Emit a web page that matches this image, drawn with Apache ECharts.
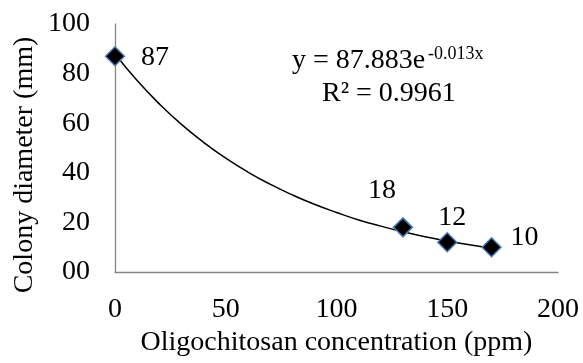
<!DOCTYPE html>
<html><head><meta charset="utf-8">
<script src="https://cdn.jsdelivr.net/npm/echarts@6/dist/echarts.min.js"></script>
<style>html,body{margin:0;padding:0;background:#fff}#c{width:583px;height:363px}</style>
</head><body><div id="c"></div>
<script>
// Observed data points
var concentrations = [0, 130, 150, 170];
var diameters = [87, 18, 12, 10];
// Exponential trendline
var trendX = [0, 10, 20, 30, 40, 50, 60, 70, 80, 90, 100, 110, 120, 130, 140, 150, 160, 170];
var trendY = [87.9, 77.2, 67.8, 59.5, 52.3, 45.9, 40.3, 35.4, 31.1, 27.3, 24.0, 21.0, 18.5, 16.2, 14.2, 12.5, 11.0, 9.6];
var labelOffsets = [[40, 1], [-21, -37], [5, -25], [33, -10]];
var xTicks = [0, 50, 100, 150, 200];
var yTicks = ['00', '20', '40', '60', '80', '100'];
var equationText = 'y = 87.883e';
var equationSup = '-0.013x';
var r2Text = 'R² = 0.9961';

var FONT = '"Liberation Serif", "Times New Roman", serif';
var FS = 28;
var chart = echarts.init(document.getElementById('c'));

var pts = concentrations.map(function (x, i) {
  return {
    value: [x, diameters[i]],
    label: { offset: labelOffsets[i] }
  };
});
var trend = trendX.map(function (x, i) { return [x, trendY[i]]; });

chart.setOption({
  animation: false,
  grid: { left: 115, right: 25, top: 24, bottom: 91 },
  xAxis: {
    type: 'value', min: 0, max: 200, interval: 50,
    name: 'Oligochitosan concentration (ppm)',
    nameLocation: 'middle', nameGap: 55,
    nameTextStyle: { fontFamily: FONT, fontSize: FS, color: '#000' },
    axisLine: { show: true, lineStyle: { color: '#868686', width: 1.3 } },
    axisTick: { show: false },
    splitLine: { show: false },
    axisLabel: { fontFamily: FONT, fontSize: FS, color: '#000', margin: 24 }
  },
  yAxis: {
    type: 'value', min: 0, max: 100, interval: 20,
    axisLine: { show: true, lineStyle: { color: '#868686', width: 1.3 } },
    axisTick: { show: false },
    splitLine: { show: false },
    axisLabel: {
      fontFamily: FONT, fontSize: FS, color: '#000', margin: 25,
      formatter: function (v) { return yTicks[Math.round(v / 20)]; }
    }
  },
  graphic: [
    { type: 'text', x: 25, y: 165, rotation: Math.PI / 2,
      style: { text: 'Colony diameter (mm)', font: FS + 'px ' + FONT, fill: '#000', textAlign: 'center', textVerticalAlign: 'middle' } },
    { type: 'text', x: 292, y: 61,
      style: { text: equationText, font: FS + 'px ' + FONT, fill: '#000', textAlign: 'left', textVerticalAlign: 'middle' } },
    { type: 'text', x: 428, y: 54,
      style: { text: equationSup, font: '18px ' + FONT, fill: '#000', textAlign: 'left', textVerticalAlign: 'middle' } },
    { type: 'text', x: 322, y: 94,
      style: { text: r2Text, font: FS + 'px ' + FONT, fill: '#000', textAlign: 'left', textVerticalAlign: 'middle' } }
  ],
  series: [
    {
      type: 'line', data: trend, smooth: true, showSymbol: false, symbol: 'none',
      lineStyle: { color: '#000', width: 1.5 }, z: 1, silent: true
    },
    {
      type: 'scatter', data: pts, symbol: 'diamond', symbolSize: 19, z: 3,
      itemStyle: { color: '#000', borderColor: '#4a7ebb', borderWidth: 1.5, opacity: 1 },
      label: {
        show: true, position: ['50%', '50%'], align: 'center', verticalAlign: 'middle',
        color: '#000', textBorderWidth: 0, opacity: 1,
        fontFamily: FONT, fontSize: FS,
        formatter: function (p) { return p.value[1]; }
      }
    }
  ]
});
</script></body></html>
